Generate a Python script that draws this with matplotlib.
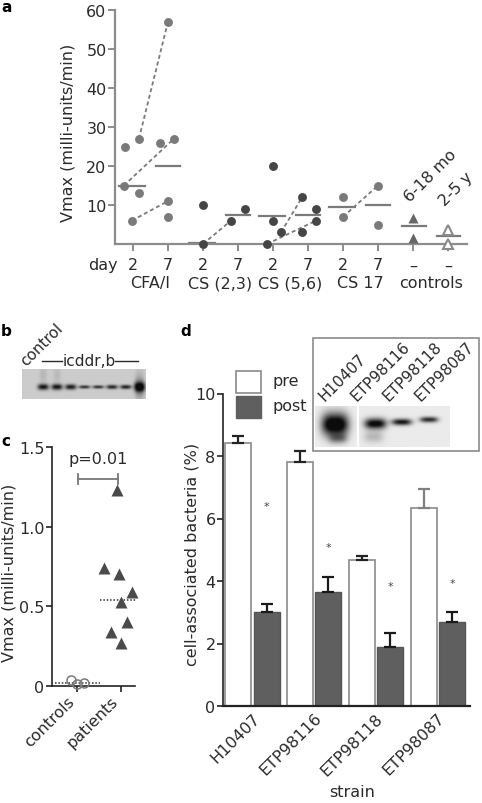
import numpy as np
import matplotlib
matplotlib.use("Agg")
import matplotlib.pyplot as plt
from matplotlib.patches import Rectangle
from matplotlib import transforms

plt.rcParams['font.family'] = ['DejaVu Sans']
plt.rcParams['font.size'] = 11

# ---------------- data ----------------
# panel a
a_groups = ['CFA/I', 'CS (2,3)', 'CS (5,6)', 'CS 17']
a_day2 = [[25, 27, 15, 13, 6], [10, 0], [20, 6, 3, 0], [12, 7]]
a_day2_jit = [[-0.23, 0.17, -0.26, 0.17, -0.03], [0, 0], [0, 0, 0.23, -0.17], [0, 0]]
a_day7 = [[57, 26, 27, 11, 7], [6, 9], [12, 9, 6, 3], [15, 5]]
a_day7_jit = [[0, -0.23, 0.17, 0, 0], [-0.2, 0.2], [-0.17, 0.23, 0.23, -0.17], [0, 0]]
a_pairs = [[(1, 0), (2, 2), (4, 3)], [(1, 0)], [(2, 0), (3, 2)], [(1, 0)]]
a_med2 = [15, 0.3, 7.2, 9.5]
a_med7 = [20, 7.4, 7.5, 10]
a_colors = ['#7a7a7a', '#454545', '#454545', '#7a7a7a']
a_ctrl_infant = [6.6, 1.6]
a_ctrl_child = [3.6, 0.0]
a_ctrl_med = [4.5, 2.0]
a_ctrl_labels = ['6-18 mo', '2-5 y']
a_ticklabels = ['2', '7', '2', '7', '2', '7', '2', '7', '\u2013', '\u2013']
a_yticks = [10, 20, 30, 40, 50, 60]

# panel b (blot lane intensities)
b_amp = [0.72, 0.72, 0.70, 0.62, 0.62, 0.66, 0.68, 0.80]
b_thick = [0.10, 0.10, 0.09, 0.055, 0.055, 0.07, 0.07, 0.16]

# panel c
c_controls = [0.035, 0.015, 0.02]
c_controls_jit = [-0.14, 0.0, 0.16]
c_patients = [1.23, 0.74, 0.70, 0.59, 0.53, 0.40, 0.34, 0.27]
c_patients_jit = [-0.09, -0.39, -0.05, 0.25, 0.0, 0.14, -0.23, 0.0]
c_med = [0.02, 0.54]
c_labels = ['controls', 'patients']

# panel d
d_strains = ['H10407', 'ETP98116', 'ETP98118', 'ETP98087']
d_pre = [8.42, 7.80, 4.68, 6.35]
d_pre_err = [0.23, 0.35, 0.13, 0.60]
d_post = [3.00, 3.65, 1.90, 2.68]
d_post_err = [0.27, 0.47, 0.45, 0.32]
d_star_y = [6.4, 5.1, 3.85, 3.95]

# ---------------- figure ----------------
W, H = 482, 804
fig = plt.figure(figsize=(W / 100, H / 100), dpi=100)


def add_ax(x0, y0, x1, y1, **kw):
    return fig.add_axes([x0 / W, 1 - y1 / H, (x1 - x0) / W, (y1 - y0) / H], **kw)


ov = fig.add_axes([0, 0, 1, 1])
ov.set_xlim(0, W)
ov.set_ylim(H, 0)
ov.axis('off')
ov.set_zorder(5)

TXT = '#2a2a2a'
PT = 72 / 100  # points per pixel

# ---------- panel a ----------
axA = add_ax(115, 11, 467, 245)
axA.set_xlim(0.486, 10.54)
axA.set_ylim(0, 60)
for s in ['top', 'right']:
    axA.spines[s].set_visible(False)
for s in ['left', 'bottom']:
    axA.spines[s].set_color('#8c8c8c')
    axA.spines[s].set_linewidth(1.6)
axA.set_yticks(a_yticks)
axA.set_yticklabels([str(v) for v in a_yticks])
axA.set_xticks(np.arange(1, 11))
axA.set_xticklabels([])
axA.tick_params(axis='y', length=7 * PT, width=1.4, color='#8c8c8c', pad=1, labelcolor=TXT, labelsize=11.5)
axA.tick_params(axis='x', length=7 * PT, width=1.4, color='#8c8c8c')
axA.patch.set_visible(False)

msz = 6.4
for g in range(4):
    p2 = 2 * g + 1
    p7 = 2 * g + 2
    x2 = [p2 + j for j in a_day2_jit[g]]
    x7 = [p7 + j for j in a_day7_jit[g]]
    for i2, i7 in a_pairs[g]:
        axA.plot([x2[i2], x7[i7]], [a_day2[g][i2], a_day7[g][i7]], ls=(0, (2.2, 1.6)),
                 color='#7a7a7a', lw=1.3, zorder=2, clip_on=False)
    axA.plot(x2, a_day2[g], 'o', ms=msz, color=a_colors[g], mec='none', zorder=3, clip_on=False)
    axA.plot(x7, a_day7[g], 'o', ms=msz, color=a_colors[g], mec='none', zorder=3, clip_on=False)
    axA.plot([p2 - 0.4, p2 + 0.33], [a_med2[g]] * 2, color='#7a7a7a', lw=1.6, zorder=2, clip_on=False)
    axA.plot([p7 - 0.35, p7 + 0.35], [a_med7[g]] * 2, color='#7a7a7a', lw=1.6, zorder=2, clip_on=False)

axA.plot([9] * len(a_ctrl_infant), a_ctrl_infant, '^', ms=7, color='#666666', mec='none', clip_on=False, zorder=3)
axA.plot([10] * len(a_ctrl_child), a_ctrl_child, '^', ms=6.5, mfc='white', mec='#8a8a8a', mew=1.5,
         clip_on=False, zorder=3)
axA.plot([9 - 0.33, 9 + 0.37], [a_ctrl_med[0]] * 2, color='#7a7a7a', lw=1.6, clip_on=False)
axA.plot([10 - 0.33, 10 + 0.35], [a_ctrl_med[1]] * 2, color='#7a7a7a', lw=1.6, clip_on=False)

axA.text(8.9, 10.8, a_ctrl_labels[0], rotation=45, rotation_mode='anchor', ha='left', va='baseline',
         color=TXT, fontsize=11.5)
axA.text(9.9, 9.8, a_ctrl_labels[1], rotation=45, rotation_mode='anchor', ha='left', va='baseline',
         color=TXT, fontsize=11.5)

trA = transforms.blended_transform_factory(axA.transData, ov.transData)
for i, lab in enumerate(a_ticklabels):
    axA.text(i + 1, 266, lab, transform=trA, ha='center', va='center', color=TXT, fontsize=11.5)
for g, lab in enumerate(a_groups + ['controls']):
    axA.text(2 * g + 1.5, 284, lab, transform=trA, ha='center', va='center', color=TXT, fontsize=11.5)
ov.text(103, 266, 'day', ha='center', va='center', color=TXT, fontsize=11.5)
ov.text(68, 133, 'Vmax (milli-units/min)', rotation=90, ha='center', va='center', color=TXT, fontsize=11.5)
ov.text(1, 7, 'a', fontweight='bold', ha='left', va='center', fontsize=11)

# ---------- blot helper ----------
def blot(ax, bg, bands, nx=240, ny=80):
    X, Y = np.meshgrid(np.linspace(0, 1, nx), np.linspace(0, 1, ny))
    img = np.full_like(X, bg)
    for cx, cy, sx, sy, amp in bands:
        img -= amp * np.exp(-(np.abs(X - cx) / sx) ** 3 - ((Y - cy) / sy) ** 2)
    img = np.clip(img, 0.05, 1)
    ax.imshow(img, cmap='gray', vmin=0, vmax=1, extent=[0, 1, 1, 0], aspect='auto', interpolation='bilinear')
    ax.set_xlim(0, 1)
    ax.set_ylim(1, 0)
    ax.axis('off')


# ---------- panel b ----------
axB = add_ax(22, 370, 146, 400)
lanes = np.linspace(0.17, 0.95, len(b_amp))
bands = [(x, 0.6, 0.045, t, a) for x, t, a in zip(lanes, b_thick, b_amp)]
bands += [(lanes[0], 0.2, 0.03, 0.3, 0.08), (lanes[1], 0.2, 0.03, 0.3, 0.07), (lanes[-1], 0.6, 0.035, 0.45, 0.25)]
blot(axB, 0.80, bands)
ov.text(1, 332, 'b', fontweight='bold', ha='left', va='center', fontsize=11)
ov.text(26, 367, 'control', rotation=45, rotation_mode='anchor', ha='left', va='baseline', color=TXT, fontsize=11)
ov.plot([42, 62], [362, 362], color=TXT, lw=1)
ov.plot([115, 138], [362, 362], color=TXT, lw=1)
ov.text(89, 362, 'icddr,b', ha='center', va='center', color=TXT, fontsize=11)

# ---------- panel c ----------
axC = add_ax(52, 448, 135, 687)
axC.set_xlim(0.432, 2.318)
axC.set_ylim(0, 1.5)
for s in ['top', 'right']:
    axC.spines[s].set_visible(False)
for s in ['left', 'bottom']:
    axC.spines[s].set_color('#222222')
    axC.spines[s].set_linewidth(1.2)
axC.set_yticks([0, 0.5, 1.0, 1.5])
axC.set_yticklabels(['0', '0.5', '1.0', '1.5'])
axC.set_xticks([1, 2])
axC.set_xticklabels(c_labels, rotation=45, ha='right', va='top', rotation_mode='default')
axC.tick_params(axis='both', length=6 * PT, width=1.2, color='#222222', pad=1, labelcolor=TXT, labelsize=11.5)
axC.patch.set_visible(False)
axC.plot([1 + j for j in c_controls_jit], c_controls, 'o', ms=6.5, mfc='none', mec='#7a7a7a', mew=1.1,
         clip_on=False, zorder=3)
axC.plot([2 + j for j in c_patients_jit], c_patients, '^', ms=8, color='#4a4a4a', mec='none',
         clip_on=False, zorder=3)
axC.plot([0.5, 1.52], [c_med[0]] * 2, ls=(0, (1, 1.2)), color='#333333', lw=1.1, clip_on=False)
axC.plot([1.52, 2.36], [c_med[1]] * 2, ls=(0, (1, 1.2)), color='#333333', lw=1.1, clip_on=False)
# significance bracket
axC.plot([1.02, 1.93], [1.30, 1.30], color='#777777', lw=1.3)
axC.plot([1.02, 1.02], [1.27, 1.33], color='#777777', lw=1.3)
axC.plot([1.93, 1.93], [1.27, 1.33], color='#777777', lw=1.3)
axC.text(1.48, 1.425, 'p=0.01', ha='center', va='center', color=TXT, fontsize=11.5)
ov.text(9, 573, 'Vmax (milli-units/min)', rotation=90, ha='center', va='center', color=TXT, fontsize=11.5)
ov.text(1, 442, 'c', fontweight='bold', ha='left', va='center', fontsize=11)

# ---------- panel d ----------
axD = add_ax(223, 394.5, 470, 707)
axD.set_xlim(-0.477, 3.52)
axD.set_ylim(0, 10)
for s in ['top', 'right']:
    axD.spines[s].set_visible(False)
axD.spines['left'].set_color('#222222')
axD.spines['left'].set_linewidth(1.2)
axD.spines['bottom'].set_color('#222222')
axD.spines['bottom'].set_linewidth(1.6)
axD.patch.set_visible(False)
x = np.arange(len(d_strains))
bw = 0.42
off = 0.228
axD.bar(x - off, d_pre, bw, color='white', edgecolor='#8a8a8a', lw=1.2, zorder=2)
axD.bar(x + off, d_post, bw, color='#5f5f5f', edgecolor='#555555', lw=1.0, zorder=2)
pre_ecol = ['#222222', '#222222', '#222222', '#808080']
for i in range(len(d_strains)):
    axD.errorbar(x[i] - off, d_pre[i], yerr=[[0], [d_pre_err[i]]], fmt='none', ecolor=pre_ecol[i],
                 elinewidth=1.6, capsize=4, capthick=1.6, zorder=3)
axD.errorbar(x + off, d_post, yerr=[np.zeros(len(d_post)), d_post_err], fmt='none', ecolor='#1a1a1a',
             elinewidth=1.6, capsize=4, capthick=1.6, zorder=3)
for i in range(len(d_strains)):
    axD.text(x[i] + off, d_star_y[i], '*', ha='center', va='center', fontsize=8, color='#444444')
axD.set_yticks([0, 2, 4, 6, 8, 10])
axD.set_yticklabels(['0', '2', '4', '6', '8', '10'])
axD.set_xticks(x)
axD.set_xticklabels([])
axD.tick_params(axis='y', length=6 * PT, width=1.2, color='#222222', pad=1, labelcolor=TXT, labelsize=11.5)
axD.tick_params(axis='x', length=0)
trD = transforms.blended_transform_factory(axD.transData, ov.transData)
for i, lab in enumerate(d_strains):
    t = axD.text(x[i], 711, lab, transform=trD + transforms.ScaledTranslation(10 / 100, 0, fig.dpi_scale_trans),
                 rotation=45, ha='right', va='top', color=TXT, fontsize=11.5)
ov.text(352, 793, 'strain', ha='center', va='center', color=TXT, fontsize=11.5)
ov.text(192, 554, 'cell-associated bacteria (%)', rotation=90, ha='center', va='center', color=TXT,
        fontsize=11.5)
ov.text(180, 332, 'd', fontweight='bold', ha='left', va='center', fontsize=11)

# legend
ov.add_patch(Rectangle((236, 372), 25, 22, facecolor='white', edgecolor='#8a8a8a', lw=1.2))
ov.add_patch(Rectangle((236, 397), 25, 22, facecolor='#5f5f5f', edgecolor='#5f5f5f', lw=1.0))
ov.text(272, 382, 'pre', ha='left', va='center', color=TXT, fontsize=11.5)
ov.text(272, 407, 'post', ha='left', va='center', color=TXT, fontsize=11.5)

# inset
ov.add_patch(Rectangle((313, 339), 166, 113, facecolor='white', edgecolor='#8a8a8a', lw=1.2))
axI1 = add_ax(315, 407, 357, 448)
axI1.set_zorder(6)
blot(axI1, 0.93, [(0.48, 0.45, 0.32, 0.28, 1.1), (0.55, 0.8, 0.22, 0.12, 0.35)])
axI2 = add_ax(359, 407, 450, 448)
axI2.set_zorder(6)
blot(axI2, 0.92, [(0.18, 0.43, 0.12, 0.13, 0.95), (0.16, 0.75, 0.11, 0.15, 0.2),
                  (0.47, 0.39, 0.11, 0.08, 0.85), (0.77, 0.33, 0.1, 0.07, 0.75)])
for i, (xx, lab) in enumerate(zip([324, 357, 388, 420], d_strains)):
    ov.text(xx, 402, lab, rotation=45, rotation_mode='anchor', ha='left', va='baseline', color=TXT,
            fontsize=11)

fig.savefig('out.png', dpi=100)
